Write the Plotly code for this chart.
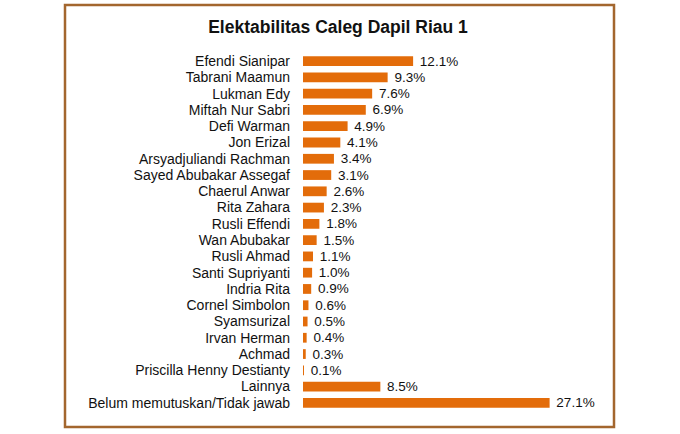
import plotly.graph_objects as go

candidates = [
    "Efendi Sianipar", "Tabrani Maamun", "Lukman Edy", "Miftah Nur Sabri",
    "Defi Warman", "Jon Erizal", "Arsyadjuliandi Rachman",
    "Sayed Abubakar Assegaf", "Chaerul Anwar", "Rita Zahara", "Rusli Effendi",
    "Wan Abubakar", "Rusli Ahmad", "Santi Supriyanti", "Indria Rita",
    "Cornel Simbolon", "Syamsurizal", "Irvan Herman", "Achmad",
    "Priscilla Henny Destianty", "Lainnya", "Belum memutuskan/Tidak jawab",
]
percent = [12.1, 9.3, 7.6, 6.9, 4.9, 4.1, 3.4, 3.1, 2.6, 2.3, 1.8,
           1.5, 1.1, 1.0, 0.9, 0.6, 0.5, 0.4, 0.3, 0.1, 8.5, 27.1]
labels = [f"\u00a0{v:.1f}%" for v in percent]

W, H = 680, 434
ml, mr, mt, mb = 303, 104, 53, 23

fig = go.Figure(go.Bar(
    x=percent, y=candidates, orientation="h",
    marker=dict(color="#e36c0a", line=dict(width=0)),
    text=labels, textposition="outside", cliponaxis=False,
    constraintext="none",
    textfont=dict(family="Liberation Sans, Arial", size=13.5, color="#111111"),
    width=0.6,
))

# brown frame around the whole chart, in paper units of the plot area
pw, ph = W - ml - mr, H - mt - mb
fig.add_shape(
    type="rect", xref="paper", yref="paper",
    x0=(65 - ml) / pw, x1=(614 - ml) / pw,
    y0=(H - mb - 427) / ph, y1=(H - mb - 5) / ph,
    line=dict(color="#a3662e", width=2.5), layer="below",
)

fig.update_layout(
    width=W, height=H,
    margin=dict(l=ml, r=mr, t=mt, b=mb),
    paper_bgcolor="white", plot_bgcolor="white",
    title=dict(text="<b>Elektabilitas Caleg Dapil Riau 1</b>",
               x=338 / W, xanchor="center", y=1 - 27 / H, yanchor="middle",
               font=dict(family="Liberation Sans, Arial", size=17.5, color="#111111")),
    showlegend=False,
    font=dict(family="Liberation Sans, Arial", size=14, color="#111111"),
)
fig.update_xaxes(range=[0, 30], visible=False)
fig.update_yaxes(autorange="reversed", showgrid=False, zeroline=False,
                 showline=False, ticks="", ticklabelstandoff=12,
                 tickmode="linear", dtick=1,
                 tickfont=dict(size=14, color="#111111"))

# drop the default body margin so the figure fills the window exactly
fig.write_html("out.html", config={"displayModeBar": False},
               post_script="document.body.style.margin='0';")
